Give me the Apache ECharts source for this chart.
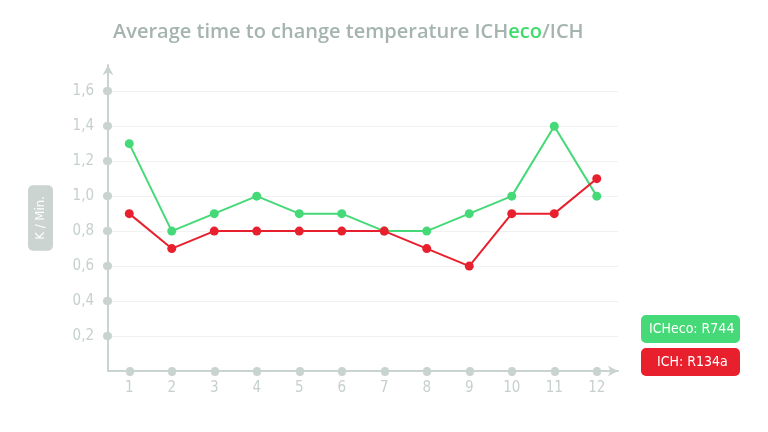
<!DOCTYPE html>
<html><head><meta charset="utf-8">
<script src="https://cdn.jsdelivr.net/npm/echarts@6/dist/echarts.min.js"></script>
<style>html,body{margin:0;padding:0;background:#fff}#c{width:768px;height:432px}</style>
</head><body><div id="c"></div>
<script>
const categories = ['1','2','3','4','5','6','7','8','9','10','11','12'];
const ichEco = [1.3, 0.8, 0.9, 1.0, 0.9, 0.9, 0.8, 0.8, 0.9, 1.0, 1.4, 1.0];
const ich = [0.9, 0.7, 0.8, 0.8, 0.8, 0.8, 0.8, 0.7, 0.6, 0.9, 0.9, 1.1];
const yTicks = [0.2, 0.4, 0.6, 0.8, 1.0, 1.2, 1.4, 1.6];
const seriesNames = ['ICHeco: R744', 'ICH: R134a'];

const axisCol = '#c9d3d0';
const labelCol = '#c6d0cd';
const narrow = '"Liberation Sans Narrow", "DejaVu Sans Condensed", "Roboto", sans-serif';
const chart = echarts.init(document.getElementById('c'));
chart.setOption({
  animation: false,
  title: {
    text: '{a|Average time to change temperature ICH}{b|eco}{a|/ICH}',
    left: 108, top: 17,
    textStyle: {
      rich: {
        a: {fontFamily: '"Open Sans", sans-serif', fontSize: 20, fontWeight: 600, color: '#a5b4af'},
        b: {fontFamily: '"Open Sans", sans-serif', fontSize: 20, fontWeight: 600, color: '#3fdc6c'}
      }
    }
  },
  legend: {
    orient: 'vertical', left: 631, top: 310, itemGap: 5,
    itemWidth: 0, itemHeight: 0, icon: 'rect', selectedMode: false,
    data: [
      {name: seriesNames[0], textStyle: {backgroundColor: '#45d977', color: '#fff', borderRadius: 5, padding: [7, 8, 7, 8], width: 83, fontFamily: narrow, fontSize: 14}},
      {name: seriesNames[1], textStyle: {backgroundColor: '#e8202e', color: '#fff', borderRadius: 5, padding: [7, 8, 7, 16], width: 75, fontFamily: narrow, fontSize: 14}}
    ]
  },
  grid: {left: 108, top: 65, right: 150, bottom: 61},
  xAxis: {
    type: 'category', data: categories, boundaryGap: true,
    axisLine: {show: true, symbol: ['none', 'arrow'], symbolSize: [8, 10], lineStyle: {color: axisCol, width: 2}},
    axisTick: {show: true, alignWithLabel: true, length: 1, lineStyle: {color: axisCol, width: 8, cap: 'round'}},
    axisLabel: {color: labelCol, fontSize: 15, margin: 10, fontFamily: narrow},
    splitLine: {show: false}
  },
  yAxis: {
    type: 'value', min: 0, max: 1.75, interval: 0.2,
    name: 'K / Min.', nameLocation: 'middle', nameRotate: 90, nameGap: 55,
    nameTextStyle: {color: '#fff', backgroundColor: '#cbd4d1', borderRadius: 5, padding: [6, 11, 6, 11], fontSize: 13, fontFamily: narrow},
    axisLine: {show: true, symbol: ['none', 'arrow'], symbolSize: [8, 10], lineStyle: {color: axisCol, width: 2}},
    axisTick: {show: true, customValues: yTicks, length: 1, lineStyle: {color: axisCol, width: 8, cap: 'round'}},
    axisLabel: {customValues: yTicks, color: labelCol, fontSize: 15, margin: 14, fontFamily: narrow,
      formatter: v => v.toFixed(1).replace('.', ',')},
    splitLine: {show: true, customValues: yTicks, lineStyle: {color: '#eff2f1', width: 1}}
  },
  series: [
    {name: seriesNames[0], type: 'line', data: ichEco, symbol: 'circle', symbolSize: 9,
      itemStyle: {color: '#45d977'}, lineStyle: {color: '#45d977', width: 2}, z: 3},
    {name: seriesNames[1], type: 'line', data: ich, symbol: 'circle', symbolSize: 9,
      itemStyle: {color: '#e8202e'}, lineStyle: {color: '#e8202e', width: 2}, z: 4}
  ]
});
</script></body></html>
